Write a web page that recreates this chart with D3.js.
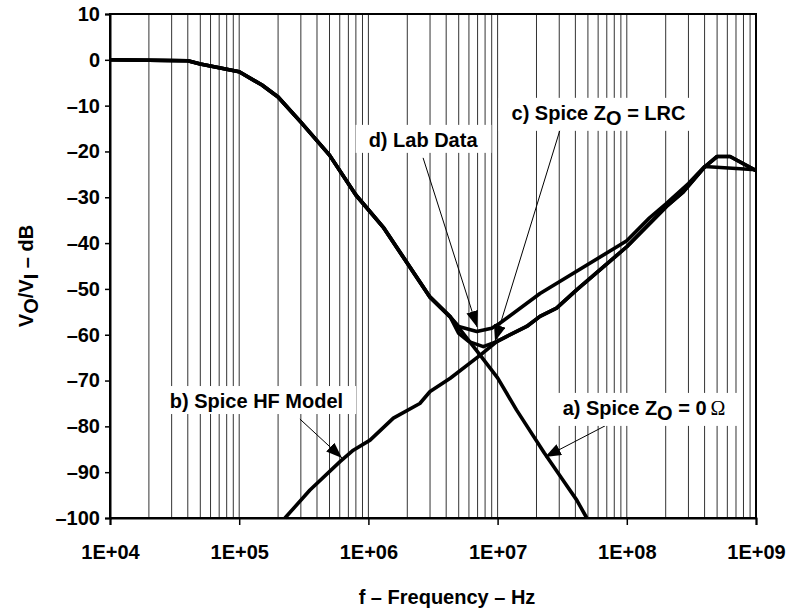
<!DOCTYPE html>
<html>
<head>
<meta charset="utf-8">
<script src="https://cdn.jsdelivr.net/npm/d3@7"></script>
<style>
  body { margin: 0; background: #fff; }
  text { font-family: "Liberation Sans", Arial, sans-serif; font-weight: bold; fill: #000; }
</style>
</head>
<body>
<div id="chart"></div>
<script>
var W = 794, H = 613;

// x ticks / y ticks
var xTicks = [1e4, 1e5, 1e6, 1e7, 1e8, 1e9];
var xTickLabels = ["1E+04", "1E+05", "1E+06", "1E+07", "1E+08", "1E+09"];
var yTicks = [10, 0, -10, -20, -30, -40, -50, -60, -70, -80, -90, -100];

// a) Spice Zo = 0 ohm
var aFreq = [1e4, 4e4, 5e4, 1e5, 1.5e5, 2e5, 3e5, 5e5, 8e5, 1.3e6, 3e6, 4.3e6, 7.3e6, 1e7, 1.4e7, 2.3e7, 3.2e7, 4.1e7, 4.9e7];
var aDb   = [0, -0.2, -0.9, -2.6, -5.5, -8.1, -13.6, -20.8, -29.5, -36.5, -51.8, -56.1, -64.4, -69.4, -76.4, -85.8, -91.7, -96.1, -100];

// b) Spice HF model
var bFreq = [2.26e5, 3.53e5, 6.03e5, 7.64e5, 1.03e6, 1.56e6, 2.5e6, 3e6, 4.3e6, 7.3e6, 9.85e6, 1.17e7, 1.68e7, 2.13e7, 2.86e7, 4.09e7, 1e8, 2.03e8, 2.74e8, 4.03e8, 5e8, 6.3e8, 1e9];
var bDb   = [-100, -93.9, -87.7, -85.2, -83, -78.2, -75, -72.4, -69.5, -64.5, -61.5, -60.4, -58.2, -56, -54.2, -50.2, -40.8, -32, -28.8, -23.3, -21.1, -21.1, -24.2];

// c) Spice Zo = LRC
var cFreq = [1e4, 4e4, 5e4, 1e5, 1.5e5, 2e5, 3e5, 5e5, 8e5, 1.3e6, 3e6, 4.3e6, 5e6, 6e6, 7.75e6, 9.85e6, 1.17e7, 1.68e7, 2.13e7, 2.86e7, 4.09e7, 1e8, 2.03e8, 2.74e8, 4.03e8, 5e8, 6.3e8, 1e9];
var cDb   = [0, -0.2, -0.9, -2.6, -5.5, -8.1, -13.6, -20.8, -29.5, -36.5, -51.8, -56.1, -59.7, -61.5, -62.6, -61.5, -60.4, -58.2, -56, -54.2, -50.2, -40.8, -32, -28.8, -23.3, -21.1, -21.1, -24.2];

// d) Lab data
var dFreq = [1e4, 4e4, 5e4, 1e5, 1.5e5, 2e5, 3e5, 5e5, 8e5, 1.3e6, 3e6, 4.3e6, 5e6, 6.9e6, 9e6, 1.04e7, 2.13e7, 1e8, 1.5e8, 2e8, 3e8, 4e8, 1e9];
var dDb   = [0, -0.2, -0.9, -2.6, -5.5, -8.1, -13.6, -20.8, -29.5, -36.5, -51.8, -56.1, -58.2, -59.3, -58.6, -57.5, -51, -39.5, -34.5, -31.5, -27, -23.3, -24];

// annotation labels (text anchor, arrow tail and tip in data units)
var annText = [
  [["d) Lab Data", ""]],
  [["c) Spice Z", ""], ["O", "sub"], [" = LRC", "up"]],
  [["b) Spice HF Model", ""]],
  [["a) Spice Z", ""], ["O", "sub"], [" = 0", "up"], ["\u03A9", "omega"]]
];
var annAt   = [[2.65e6, -19.0], [6.04e7, -13.1], [1.36e5, -76.0], [1.36e8, -77.5]];
var annTail = [[2.65e6, -21.4], [3.04e7, -15.3], [2.95e5, -78.4], [6.78e7, -79.9]];
var annTip  = [[6.93e6, -58.3], [9.55e6, -61.4], [6.25e5, -86.9], [2.33e7, -86.7]];

var x = d3.scaleLog().domain([1e4, 1e9]).range([110, 756]);
var y = d3.scaleLinear().domain([-100, 10]).range([518, 14]);

var svg = d3.select("#chart").append("svg")
  .attr("width", W)
  .attr("height", H);

svg.append("defs").append("marker")
  .attr("id", "head")
  .attr("markerUnits", "userSpaceOnUse")
  .attr("viewBox", "0 0 16 12")
  .attr("markerWidth", 16)
  .attr("markerHeight", 12)
  .attr("refX", 16)
  .attr("refY", 6)
  .attr("orient", "auto")
  .append("path")
  .attr("d", "M0,0L16,6L0,12Z")
  .attr("fill", "#000");

// vertical grid at 2..10 x every decade
var grid = [];
for (var dec = 1e4; dec < 1e9; dec *= 10) {
  for (var k = 2; k <= 10; k++) grid.push(k * dec);
}
svg.append("g").selectAll("line")
  .data(grid)
  .enter().append("line")
  .attr("x1", function(d) { return x(d); })
  .attr("x2", function(d) { return x(d); })
  .attr("y1", y(10))
  .attr("y2", y(-100))
  .attr("stroke", "#333")
  .attr("stroke-width", 1);

// curves
var line = d3.line()
  .x(function(d) { return x(d[0]); })
  .y(function(d) { return y(d[1]); });

var series = [[aFreq, aDb], [bFreq, bDb], [cFreq, cDb], [dFreq, dDb]];
svg.append("g").selectAll("path")
  .data(series)
  .enter().append("path")
  .attr("d", function(s) { return line(d3.zip(s[0], s[1])); })
  .attr("fill", "none")
  .attr("stroke", "#000")
  .attr("stroke-width", 3.6)
  .attr("stroke-linejoin", "round");

// arrows
svg.append("g").selectAll("line")
  .data(annTip)
  .enter().append("line")
  .attr("x1", function(d, i) { return x(annTail[i][0]); })
  .attr("y1", function(d, i) { return y(annTail[i][1]); })
  .attr("x2", function(d) { return x(d[0]); })
  .attr("y2", function(d) { return y(d[1]); })
  .attr("stroke", "#000")
  .attr("stroke-width", 1)
  .attr("marker-end", "url(#head)");

// labels with white boxes
var labels = svg.append("g");
annText.forEach(function(parts, i) {
  var g = labels.append("g");
  var t = g.append("text")
    .attr("x", x(annAt[i][0]))
    .attr("y", y(annAt[i][1]))
    .attr("text-anchor", "middle")
    .attr("font-size", "20px");
  parts.forEach(function(p) {
    var ts = t.append("tspan").text(p[0]);
    if (p[1] == "sub") ts.attr("dy", 5);
    if (p[1] == "up") ts.attr("dy", -5);
    if (p[1] == "omega") ts.attr("dx", 4).style("font-weight", "normal").style("font-family", "'Liberation Serif', serif");
  });
  var bb = t.node().getBBox();
  g.insert("rect", "text")
    .attr("x", bb.x - 13)
    .attr("y", bb.y - 4)
    .attr("width", bb.width + 26)
    .attr("height", bb.height + 6)
    .attr("fill", "#fff");
});

// frame
svg.append("rect")
  .attr("x", x(1e4))
  .attr("y", y(10))
  .attr("width", x(1e9) - x(1e4))
  .attr("height", y(-100) - y(10))
  .attr("fill", "none")
  .attr("stroke", "#000")
  .attr("stroke-width", 2);

// axes
var yAxis = svg.append("g")
  .attr("transform", "translate(" + x(1e4) + ",0)")
  .call(d3.axisLeft(y).tickValues(yTicks).tickSize(5).tickPadding(5)
    .tickFormat(function(d) { return d < 0 ? "\u2013" + (-d) : d; }));
yAxis.select(".domain").attr("stroke-width", 2);
yAxis.selectAll(".tick line").attr("stroke-width", 1.5);
yAxis.selectAll("text").attr("font-size", "20px").attr("font-family", null);

var xAxis = svg.append("g")
  .attr("transform", "translate(0," + y(-100) + ")")
  .call(d3.axisBottom(x).tickValues(xTicks).tickSize(7).tickPadding(20)
    .tickFormat(function(d, i) { return xTickLabels[i]; }));
xAxis.select(".domain").attr("stroke-width", 2);
xAxis.selectAll(".tick line").attr("stroke-width", 1.5);
xAxis.selectAll("text").attr("font-size", "20px").attr("font-family", null);

// axis titles
svg.append("text")
  .attr("x", 447)
  .attr("y", 604)
  .attr("text-anchor", "middle")
  .attr("font-size", "20px")
  .text("f \u2013 Frequency \u2013 Hz");

var yt = svg.append("text")
  .attr("transform", "translate(33,276) rotate(-90)")
  .attr("text-anchor", "middle")
  .attr("font-size", "20px");
yt.append("tspan").text("V");
yt.append("tspan").attr("dy", 5).text("O");
yt.append("tspan").attr("dy", -5).text("/V");
yt.append("tspan").attr("dy", 5).text("I");
yt.append("tspan").attr("dy", -5).text(" \u2013 dB");
</script>
</body>
</html>
